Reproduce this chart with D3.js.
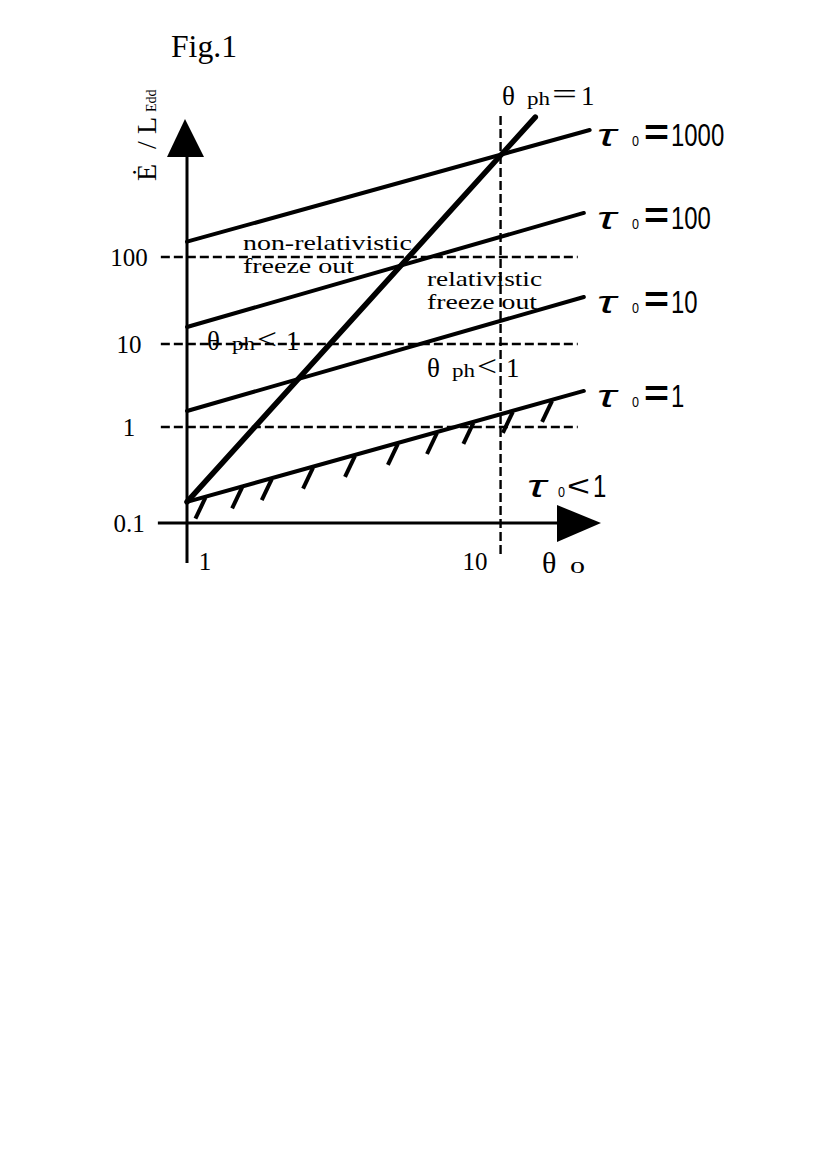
<!DOCTYPE html>
<html><head><meta charset="utf-8">
<script src="https://cdn.jsdelivr.net/npm/d3@7"></script>
<style>body{margin:0;background:#fff}svg{display:block}</style>
</head><body>
<svg id="c" width="830" height="1173"></svg>
<script>
// ---- data ----
const xTicks = [1, 10];
const yTicks = [0.1, 1, 10, 100];
const tauLabels = ["1000", "100", "10", "1"];
const tauStartTheta = [1, 1, 1, 1];
const tauStartE = [150, 15.7, 1.56, 0.166];
const tauEndTheta = [31, 29.5, 29.5, 29.5];
const tauEndE = [2880, 321, 34.7, 2.72];
const phTheta = [1, 19.5];
const phE = [0.166, 4060];
const thetaPhCrit = 14.5;          // theta_ph = 1 vertical guide
const guideE = [100, 10, 1];       // horizontal dashed guides
const guideTheta = [0.8, 28];
const hatchTheta = [1.17, 1.60, 2.06, 2.93, 4.19, 6.04, 8.43, 11.5, 16.1, 22.5];

const svg = d3.select("#c");
const x = d3.scaleLog().domain([1, 10]).range([187, 457]);
const y = d3.scaleLog().domain(yTicks).range([523, 427, 344, 257]);

const serif = "'Liberation Serif','DejaVu Serif',serif";
const sans = "'Liberation Sans','DejaVu Sans',sans-serif";

// Title
svg.append("text").attr("x", 171).attr("y", 57).attr("font-family", serif)
  .attr("font-size", 31).attr("textLength", 66).attr("lengthAdjust", "spacingAndGlyphs").text("Fig.1");

// horizontal dashed guides
svg.selectAll("line.hg").data(guideE).join("line").attr("class", "hg")
  .attr("x1", x(guideTheta[0])).attr("x2", x(guideTheta[1]))
  .attr("y1", d => y(d)).attr("y2", d => y(d))
  .attr("stroke", "#000").attr("stroke-width", 2.4).attr("stroke-dasharray", "9,4");

// vertical dashed guide theta_ph = 1
svg.append("line").attr("x1", x(thetaPhCrit)).attr("x2", x(thetaPhCrit))
  .attr("y1", 116).attr("y2", 555)
  .attr("stroke", "#000").attr("stroke-width", 2.4).attr("stroke-dasharray", "9,4");

// axes
const x0 = x(1), y0 = y(0.1);
svg.append("line").attr("x1", x0).attr("x2", x0).attr("y1", 563).attr("y2", 150)
  .attr("stroke", "#000").attr("stroke-width", 3);
svg.append("path").attr("d", `M${x0-2},119 L${x0-20},157 L${x0+17},157 Z`).attr("fill", "#000");
svg.append("line").attr("x1", x(0.78)).attr("x2", 565).attr("y1", y0).attr("y2", y0)
  .attr("stroke", "#000").attr("stroke-width", 3);
svg.append("path").attr("d", `M601,${y0} L557,${y0-18} L557,${y0+19} Z`).attr("fill", "#000");

// y tick labels
svg.selectAll("text.yt").data(yTicks).join("text").attr("class", "yt")
  .attr("x", 129).attr("y", d => y(d) + 9).attr("text-anchor", "middle")
  .attr("font-family", serif).attr("font-size", 25).text(d => d);
// x tick labels
svg.selectAll("text.xt").data(xTicks).join("text").attr("class", "xt")
  .attr("x", d => x(d) + 18).attr("y", 570).attr("text-anchor", "middle")
  .attr("font-family", serif).attr("font-size", 25).text(d => d);

// tau lines
const tauData = tauLabels.map((l, i) => ({
  label: l, x1: x(tauStartTheta[i]), y1: y(tauStartE[i]),
  x2: x(tauEndTheta[i]), y2: y(tauEndE[i])
}));
svg.selectAll("line.tau").data(tauData).join("line").attr("class", "tau")
  .attr("x1", d => d.x1).attr("y1", d => d.y1).attr("x2", d => d.x2).attr("y2", d => d.y2)
  .attr("stroke", "#000").attr("stroke-width", 4).attr("stroke-linecap", "round");

// theta_ph = 1 thick line
svg.append("line").attr("x1", x(phTheta[0])).attr("y1", y(phE[0]))
  .attr("x2", x(phTheta[1])).attr("y2", y(phE[1]))
  .attr("stroke", "#000").attr("stroke-width", 5.5).attr("stroke-linecap", "round");

// hatch marks beneath tau0 = 1 line
const t1 = tauData[3];
svg.selectAll("line.hatch").data(hatchTheta).join("line").attr("class", "hatch")
  .each(function (d) {
    const hx = x(d);
    const hy = t1.y1 + (hx - t1.x1) * (t1.y2 - t1.y1) / (t1.x2 - t1.x1);
    d3.select(this).attr("x1", hx).attr("y1", hy + 1).attr("x2", hx - 10).attr("y2", hy + 22);
  })
  .attr("stroke", "#000").attr("stroke-width", 4);

// tau labels
function tauLabel(lx, ly, rel, val, off) {
  const g = svg.append("g");
  g.append("text").attr("x", lx).attr("y", ly).attr("font-family", sans)
    .attr("font-style", "italic").attr("font-size", 31)
    .attr("textLength", 19).attr("lengthAdjust", "spacingAndGlyphs").text("τ");
  g.append("text").attr("x", lx + off[0]).attr("y", ly).attr("font-family", sans)
    .attr("font-size", 14).attr("textLength", 7).attr("lengthAdjust", "spacingAndGlyphs").text("0");
  const r = g.append("text").attr("x", lx + off[1]).attr("y", ly - 1).attr("font-family", sans)
    .attr("textLength", off[3]).attr("lengthAdjust", "spacingAndGlyphs").text(rel);
  if (rel === "=") r.attr("font-size", 36).attr("font-weight", "bold");
  else r.attr("font-size", 30);
  g.append("text").attr("x", lx + off[2]).attr("y", ly).attr("font-family", sans)
    .attr("font-size", 31).attr("textLength", 13.3 * val.length)
    .attr("lengthAdjust", "spacingAndGlyphs").text(val);
}
tauData.forEach(d => tauLabel(597, d.y2 + 16, "=", d.label, [35, 47, 74, 25]));
tauLabel(527, 497, "<", "1", [31, 40, 66, 23]);

// theta labels
function thetaLabel(lx, ly, rel) {
  svg.append("text").attr("x", lx).attr("y", ly).attr("font-family", serif)
    .attr("font-size", 27).text("θ");
  svg.append("text").attr("x", lx + 25).attr("y", ly).attr("font-family", serif)
    .attr("font-size", 19).attr("textLength", 23).attr("lengthAdjust", "spacingAndGlyphs").text("ph");
  svg.append("text").attr("x", lx + 50).attr("y", ly - 1).attr("font-family", serif)
    .attr("font-size", 30).attr("textLength", rel === "=" ? 25 : 20)
    .attr("lengthAdjust", "spacingAndGlyphs").text(rel);
  svg.append("text").attr("x", lx + 79).attr("y", ly).attr("font-family", serif)
    .attr("font-size", 27).text("1");
}
thetaLabel(502, 105, "=");
thetaLabel(207, 350, "<");
thetaLabel(427, 377, "<");

// x axis label
svg.append("text").attr("x", 542).attr("y", 573).attr("font-family", serif)
  .attr("font-size", 30).text("θ");
svg.append("text").attr("x", 570).attr("y", 573).attr("font-family", serif)
  .attr("font-size", 16).attr("textLength", 15).attr("lengthAdjust", "spacingAndGlyphs").text("0");

// y axis label (rotated)
const yl = svg.append("text").attr("transform", "translate(156,181) rotate(-90)")
  .attr("font-family", serif).attr("font-size", 28);
yl.append("tspan").attr("x", 0).text("Ė");
yl.append("tspan").attr("x", 32).text("/");
yl.append("tspan").attr("x", 47).text("L");
yl.append("tspan").attr("x", 69).attr("font-size", 14).text("Edd");

// region annotations
function block(lx, ly, lines, widths) {
  lines.forEach((s, i) => svg.append("text").attr("x", lx).attr("y", ly + i * 23)
    .attr("font-family", serif).attr("font-size", 21)
    .attr("textLength", widths[i]).attr("lengthAdjust", "spacingAndGlyphs").text(s));
}
block(243, 250, ["non-relativistic", "freeze out"], [169, 111]);
block(427, 286, ["relativistic", "freeze out"], [115, 110]);
</script>
</body></html>
